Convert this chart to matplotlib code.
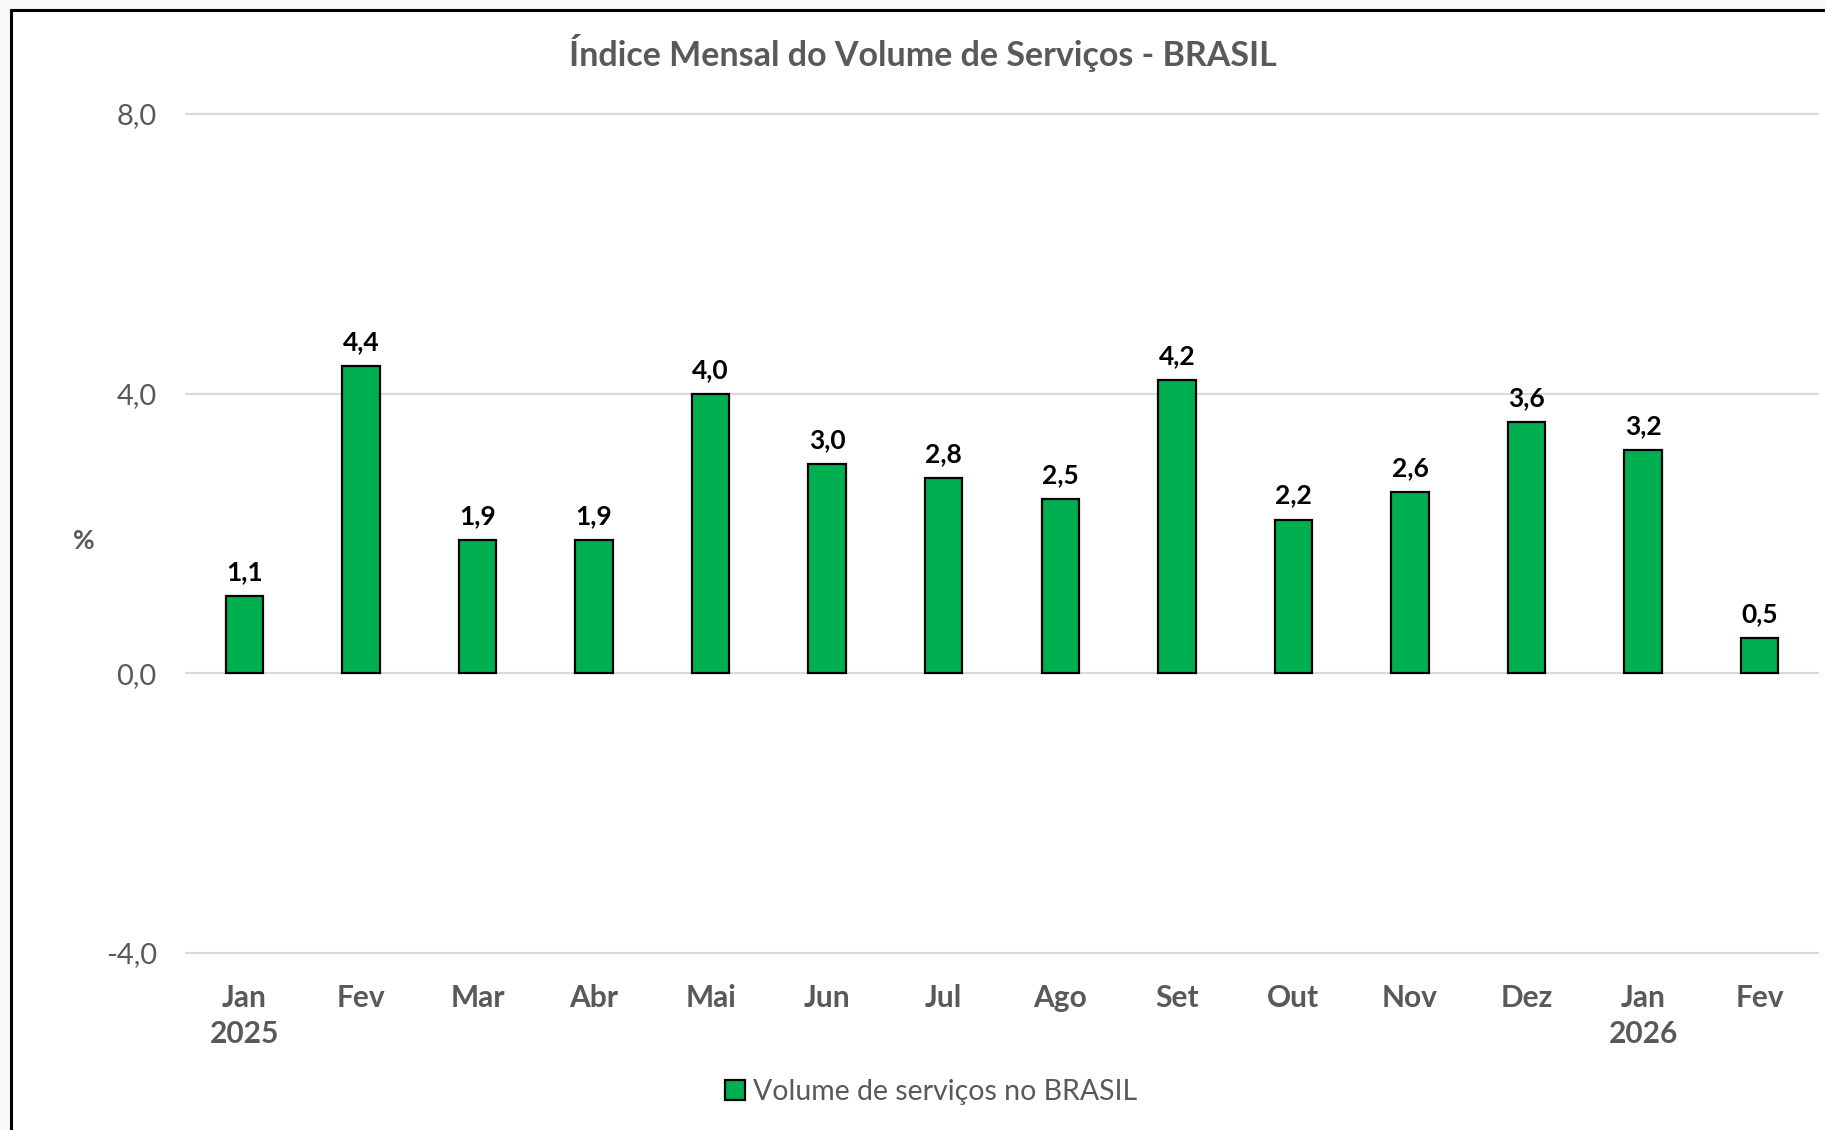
import matplotlib.pyplot as plt
from matplotlib.patches import Rectangle

# Data
months = ["Jan\n2025", "Fev", "Mar", "Abr", "Mai", "Jun", "Jul", "Ago",
          "Set", "Out", "Nov", "Dez", "Jan\n2026", "Fev"]
values = [1.1, 4.4, 1.9, 1.9, 4.0, 3.0, 2.8, 2.5, 4.2, 2.2, 2.6, 3.6, 3.2, 0.5]
y_ticks = [-4.0, 0.0, 4.0, 8.0]

title = "Índice Mensal do Volume de Serviços - BRASIL"
series_name = "Volume de serviços no BRASIL"

plt.rcParams['font.family'] = ['Lato', 'DejaVu Sans']

W, H = 1825, 1130
fig = plt.figure(figsize=(W / 100, H / 100), dpi=100, facecolor='#f8f8f8')

# white chart area with black frame (top and left visible)
fig.patches.append(Rectangle((10.5 / W, -0.05), 1.1, 1 - 9.5 / H + 0.05,
                             transform=fig.transFigure, facecolor='white',
                             edgecolor='black', linewidth=2.2, zorder=-5))

ax = fig.add_axes([186 / W, 1 - 953 / H, (1818 - 186) / W, (953 - 114) / H])
ax.set_zorder(2)
ax.set_facecolor('none')

x = list(range(len(months)))
bars = ax.bar(x, values, width=0.32, color='#00B050', edgecolor='black',
              linewidth=1.6, label=series_name, zorder=3)

for xi, v in zip(x, values):
    ax.text(xi, v + 0.17, f"{v:.1f}".replace('.', ','), ha='center',
            va='bottom', fontsize=19, fontweight='bold', color='black')

ax.set_xlim(-0.5, len(months) - 0.5)
ax.set_ylim(-4.0, 8.0)
ax.set_yticks(y_ticks)
ax.set_yticklabels([f"{t:.1f}".replace('.', ',') for t in y_ticks],
                   fontsize=21, color='#595959')
ax.set_xticks(x)
ax.set_xticklabels(months, fontsize=21.5, fontweight='bold', color='#595959',
                   linespacing=1.38)
ax.tick_params(axis='both', length=0)
ax.tick_params(axis='y', pad=21)
ax.tick_params(axis='x', pad=22)

ax.grid(axis='y', color='#d9d9d9', linewidth=1.5, zorder=0)
for gl in ax.get_ygridlines():
    gl.set_clip_on(False)
for s in ax.spines.values():
    s.set_visible(False)

fig.text(84 / W, 1 - 541 / H, "%", fontsize=19, fontweight='bold',
         color='#595959', ha='center', va='center')

fig.text(923 / W, 1 - 53 / H, title, fontsize=24.5, fontweight='bold',
         color='#595959', ha='center', va='center')

fig.legend(handles=[bars], labels=[series_name], loc='center',
           bbox_to_anchor=(931 / W, 1 - 1092 / H), frameon=False,
           fontsize=20.5, labelcolor='#595959', handlelength=0.7,
           handleheight=0.7, handletextpad=0.3)

fig.savefig("out.png", dpi=100, facecolor=fig.get_facecolor())
